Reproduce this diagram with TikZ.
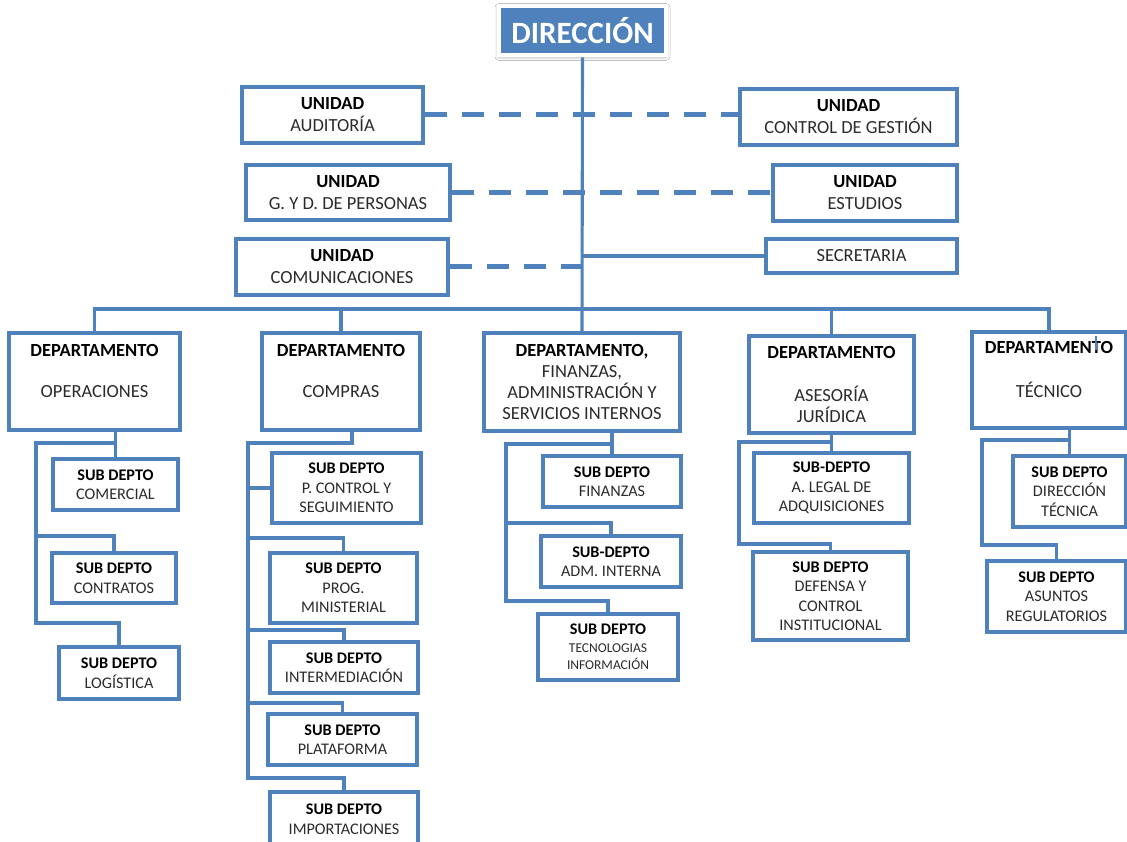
\documentclass[tikz,border=0pt]{standalone}
\usepackage{fontspec}
\setmainfont{Carlito}
\usetikzlibrary{shadows,shadows.blur}
\definecolor{obl}{HTML}{4F81BD}
\definecolor{txg}{HTML}{2B2B2B}
\newcommand\hd[1]{\textcolor{black}{\textbf{#1}}}
\newcommand\obox[7][]{%
 \pgfmathsetmacro\oCx{(#3+#5)/2}%
 \pgfmathsetmacro\oCy{(#4+#6)/2}%
 \pgfmathsetmacro\oBw{#5-#3}%
 \pgfmathsetmacro\oBh{#6-#4}%
 \node[bx,minimum width=\oBw pt,minimum height=\oBh pt,#1] (#2) at (\oCx,\oCy) {#7};}
\tikzset{
 bx/.style={draw=obl, line width=3.1pt, fill=white, inner sep=0pt, align=center, text=txg,
   drop shadow={shadow xshift=1.2pt, shadow yshift=-1.5pt, opacity=0.3}},
 ln/.style={draw=obl, line width=3.1pt},
 dl/.style={draw=obl, line width=5pt, dash pattern=on 22pt off 15pt},
 ufont/.style={font=\fontsize{18.5}{22}\selectfont},
 dfont/.style={font=\fontsize{18.5}{20.75}\selectfont},
 sfont/.style={font=\fontsize{16.2}{19.5}\selectfont},
 dirbox/.style={fill=obl, draw=white, line width=4pt, text=white, inner sep=0pt,
   minimum width=167pt, minimum height=49pt, font=\fontsize{31}{34}\selectfont\bfseries,
   blur shadow={shadow xshift=0pt, shadow yshift=-1pt, shadow blur radius=4pt, shadow opacity=45}}
}
\begin{document}
\begin{tikzpicture}[x=1pt,y=-1pt]
\path[fill=white, use as bounding box] (0,0) rectangle (1127,842);
% top
\node[dirbox] (dir) at (582.5,31) {DIRECCIÓN};
% units
\obox[ufont]{aud}{242}{87}{423}{143}{\hd{UNIDAD}\\AUDITORÍA}
\obox[ufont]{cg}{740}{89}{957}{145}{\hd{UNIDAD}\\CONTROL DE GESTIÓN}
\obox[ufont]{gyd}{246}{165}{450}{220}{\hd{UNIDAD}\\G. Y D. DE PERSONAS}
\obox[ufont]{est}{773}{165}{957}{221}{\hd{UNIDAD}\\ESTUDIOS}
\obox[ufont]{comu}{236}{239}{448}{295}{\hd{UNIDAD}\\COMUNICACIONES}
\obox[ufont]{sec}{766}{239}{957}{273}{SECRETARIA}
% departments
\obox[dfont]{ope}{9}{333}{180}{430}{\hd{DEPARTAMENTO}\\\strut\\OPERACIONES\\\mbox{}}
\obox[dfont]{cmp}{262}{333}{420}{430}{\hd{DEPARTAMENTO}\\\strut\\COMPRAS\\\mbox{}}
\obox[dfont]{fin}{484}{333}{680}{431}{\hd{DEPARTAMENTO,}\\FINANZAS,\\ADMINISTRACIÓN Y\\SERVICIOS INTERNOS}
\obox[dfont]{ase}{749}{336}{914}{433}{\hd{DEPARTAMENTO}\\\strut\\ASESORÍA\\JURÍDICA}
\obox[dfont]{tec}{972}{332}{1126}{428}{\hd{DEPARTAMENTO}\\\strut\\TÉCNICO\\\mbox{}}
% sub departments
\obox[sfont]{scom}{53}{459}{178}{510}{\hd{SUB DEPTO}\\COMERCIAL}
\obox[sfont]{scon}{52}{553}{176}{603}{\hd{SUB DEPTO}\\CONTRATOS}
\obox[sfont]{slog}{59}{647}{179}{699}{\hd{SUB DEPTO}\\LOGÍSTICA}
\obox[sfont]{spc}{272}{453}{421}{523}{\hd{SUB DEPTO}\\P. CONTROL Y\\SEGUIMIENTO}
\obox[sfont]{spm}{270}{553}{417}{623}{\hd{SUB DEPTO}\\PROG.\\MINISTERIAL}
\obox[sfont]{sint}{270}{642}{418}{693}{\hd{SUB DEPTO}\\INTERMEDIACIÓN}
\obox[sfont]{spla}{268}{714}{417}{765}{\hd{SUB DEPTO}\\PLATAFORMA}
\obox[sfont]{simp}{270}{792}{418}{846}{\hd{SUB DEPTO}\\IMPORTACIONES}
\obox[sfont]{sfin}{543}{456}{681}{507}{\hd{SUB DEPTO}\\FINANZAS}
\obox[sfont]{sadm}{541}{536}{681}{587}{\hd{SUB-DEPTO}\\ADM. INTERNA}
\obox[font=\fontsize{13.5}{17.5}\selectfont]{stec}{538}{614}{678}{680}{{\fontsize{16.2}{19.5}\selectfont\hd{SUB DEPTO}}\\TECNOLOGIAS\\INFORMACIÓN}
\obox[sfont]{sleg}{754}{453}{909}{523}{\hd{SUB-DEPTO}\\A. LEGAL DE\\ADQUISICIONES}
\obox[sfont]{sdef}{753}{552}{908}{640}{\hd{SUB DEPTO}\\DEFENSA Y\\CONTROL\\INSTITUCIONAL}
\obox[sfont]{sdt}{1013}{456}{1126}{527}{\hd{SUB DEPTO}\\DIRECCIÓN\\TÉCNICA}
\obox[sfont]{sar}{987}{561}{1126}{632}{\hd{SUB DEPTO}\\ASUNTOS\\REGULATORIOS}
% junction coordinates
\coordinate (bus) at (583,309);
\coordinate (oT) at (36,443); \coordinate (oM) at (36,536); \coordinate (oB) at (36,623);
\coordinate (cD) at (352,443); \coordinate (cT) at (248,443); \coordinate (cB) at (248,778);
\coordinate (c1) at (248,538); \coordinate (c2) at (248,630); \coordinate (c3) at (248,703);
\coordinate (fT) at (506,444); \coordinate (f1) at (506,523); \coordinate (fB) at (506,601);
\coordinate (aT) at (739,442); \coordinate (aB) at (739,544);
\coordinate (tT) at (982,440); \coordinate (tB) at (982,545);
% dashed links
\draw[dl] (aud.east) -- (aud.east -| cg.west);
\draw[dl] (gyd.east) -- (gyd.east -| est.west);
\draw[dl] (comu.east) -- (comu.east -| dir.south);
% main structure
\draw[ln] (dir.south) -- (fin.north);
\draw[ln] (sec.west) -- (sec.west -| dir.south);
\draw[ln] (ope.north) |- (bus) -| (tec.north);
\draw[ln] (cmp.north) -- (cmp.north |- bus);
\draw[ln] (ase.north) -- (ase.north |- bus);
% operaciones
\draw[ln] (ope.south -| scom.north) -- (scom.north);
\draw[ln] (scom.north |- oT) -- (oT) -- (oB) -| (slog.north);
\draw[ln] (oM) -| (scon.north);
% compras
\draw[ln] (cD |- cmp.south) -- (cD) -- (cT) -- (cB) -| (simp.north);
\draw[ln] (cT |- spc.west) -- (spc.west);
\draw[ln] (c1) -| (spm.north);
\draw[ln] (c2) -| (sint.north);
\draw[ln] (c3) -| (spla.north);
% finanzas
\draw[ln] (fin.south -| sfin.north) -- (sfin.north);
\draw[ln] (sfin.north |- fT) -- (fT) -- (fB) -| (stec.north);
\draw[ln] (f1) -| (sadm.north);
% asesoria
\draw[ln] (ase.south -| sleg.north) -- (sleg.north);
\draw[ln] (sleg.north |- aT) -- (aT) -- (aB) -| (sdef.north);
% tecnico
\draw[ln] (tec.south -| sdt.north) -- (sdt.north);
\draw[ln] (sdt.north |- tT) -- (tT) -- (tB) -| (sar.north);
\draw[obl, line width=1.2pt] ([xshift=47pt,yshift=-6pt]tec.north) -- ++(0,14);
\end{tikzpicture}
\end{document}
